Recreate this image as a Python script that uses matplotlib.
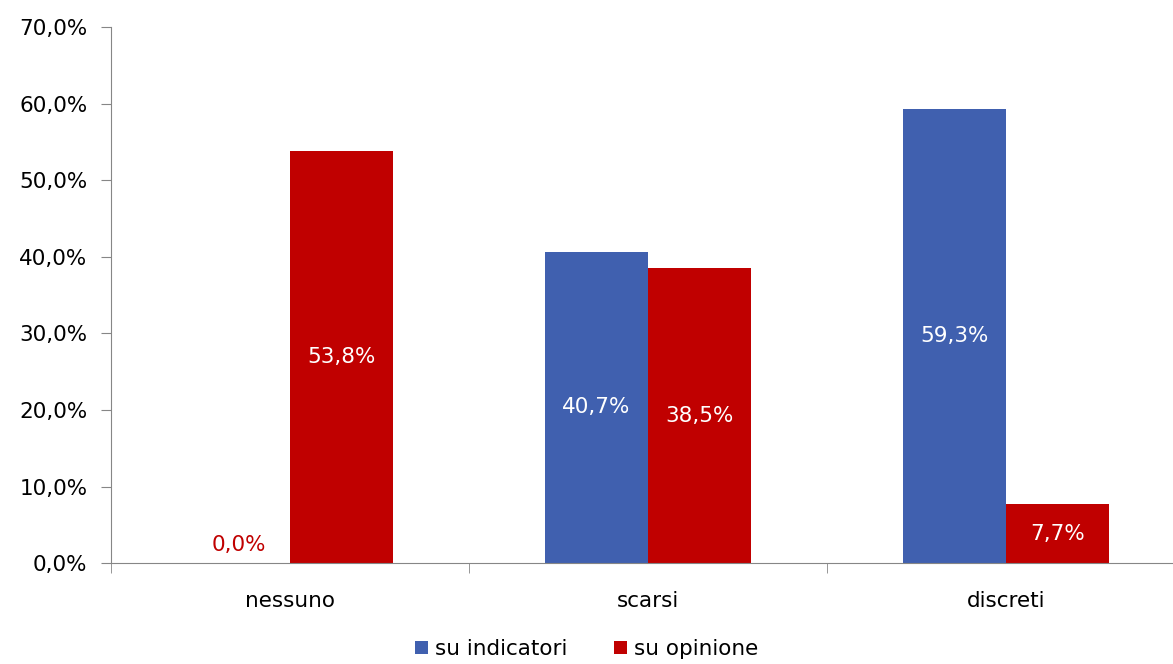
import matplotlib.pyplot as plt
import numpy as np
from matplotlib.ticker import FuncFormatter

categories = ["nessuno", "scarsi", "discreti"]
su_indicatori = [0.0, 40.7, 59.3]
su_opinione = [53.8, 38.5, 7.7]
series_names = ["su indicatori", "su opinione"]

blue = "#4060AF"
red = "#C00000"
axis_grey = "#868686"
fs = 15.5

plt.rcParams["font.family"] = "DejaVu Sans"

fig = plt.figure(figsize=(11.73, 6.64), dpi=100)
ax = fig.add_axes([0.0946, 0.152, 0.9156, 0.807])

x = np.arange(len(categories))
w = 0.288
bars1 = ax.bar(x - w / 2, su_indicatori, w, color=blue, label=series_names[0])
bars2 = ax.bar(x + w / 2, su_opinione, w, color=red, label=series_names[1])


def pct(v):
    return f"{v:.1f}%".replace(".", ",")


# value labels: white inside the bars, the empty bar gets a red label
for bars, vals in [(bars1, su_indicatori), (bars2, su_opinione)]:
    for b, v in zip(bars, vals):
        cx = b.get_x() + b.get_width() / 2
        if v == 0:
            ax.text(cx, 2.4, pct(v), ha="center", va="center", color=red, fontsize=fs)
        else:
            ax.text(cx, v / 2, pct(v), ha="center", va="center", color="white", fontsize=fs)

ax.set_xlim(-0.5, 2.5)
ax.set_ylim(0, 70)
ax.set_yticks(np.arange(0, 71, 10))
ax.yaxis.set_major_formatter(FuncFormatter(lambda v, _: pct(v)))
ax.set_xticks(x)
ax.set_xticklabels(categories)
ax.set_xticks([-0.5, 0.5, 1.5, 2.5], minor=True)
ax.tick_params(axis="x", which="major", length=0, pad=20, labelsize=fs)
ax.tick_params(axis="x", which="minor", length=7, color=axis_grey, direction="out")
ax.tick_params(axis="y", length=7, color=axis_grey, labelsize=fs, pad=10)

for s in ["top", "right"]:
    ax.spines[s].set_visible(False)
for s in ["left", "bottom"]:
    ax.spines[s].set_color(axis_grey)

fig.legend(loc="lower center", bbox_to_anchor=(0.5, -0.022), ncol=2, frameon=False,
           fontsize=fs, handlelength=0.6, handleheight=0.6, handletextpad=0.3,
           columnspacing=2.2)

fig.savefig("out.png", dpi=100)
